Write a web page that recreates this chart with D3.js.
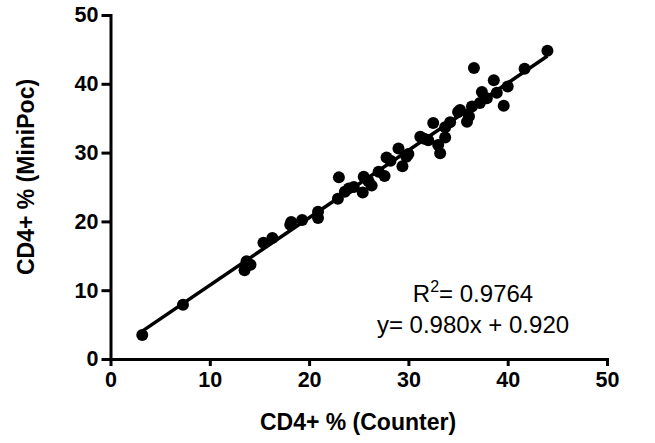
<!DOCTYPE html>
<html>
<head>
<meta charset="utf-8">
<script src="https://cdn.jsdelivr.net/npm/d3@7/dist/d3.min.js"></script>
<style>
  html, body { margin: 0; padding: 0; background: #fff; }
  svg { display: block; }
  text { font-family: "Liberation Sans", Arial, Helvetica, sans-serif; }
</style>
</head>
<body>
<svg id="chart" width="655" height="443"></svg>
<script>
// Data (CD4+ % Counter vs MiniPoc)
const counterValues = [3.2, 7.3, 13.5, 13.7, 14.1, 13.6, 15.4, 16.3, 18.1, 18.2, 19.3, 20.9, 20.9,
  23.0, 22.9, 23.6, 24.0, 24.5, 25.4, 25.5, 26.0, 26.3, 27.0, 27.6, 27.8, 28.2, 29.0, 29.4, 29.8, 30.0,
  31.2, 31.6, 32.0, 32.5, 33.0, 33.2, 33.7, 33.7, 34.2, 35.0, 35.2, 35.9, 36.1, 36.4, 36.6, 37.2, 37.4,
  37.9, 38.6, 38.9, 39.6, 40.0, 41.7, 44.0];
const miniPocValues = [3.5, 7.9, 12.9, 14.2, 13.7, 13.4, 16.9, 17.6, 19.5, 19.9, 20.2, 21.4, 20.5,
  26.4, 23.3, 24.3, 24.8, 25.0, 24.2, 26.5, 25.8, 25.2, 27.2, 26.6, 29.3, 28.8, 30.6, 28.0, 29.4, 29.8,
  32.3, 32.0, 31.8, 34.3, 31.1, 29.9, 33.7, 32.2, 34.4, 35.9, 36.2, 34.5, 35.3, 36.7, 42.3, 37.2, 38.8,
  37.9, 40.5, 38.7, 36.8, 39.6, 42.2, 44.8];
const xTicks = [0, 10, 20, 30, 40, 50];
const yTicks = [0, 10, 20, 30, 40, 50];
const slope = 0.980;
const intercept = 0.920;
const rSquaredLabel = "0.9764";
const equationLabel = "y= 0.980x + 0.920";
const xTitle = "CD4+ % (Counter)";
const yTitle = "CD4+ % (MiniPoc)";

const svg = d3.select("#chart");
const x = d3.scaleLinear().domain([0, 50]).range([110.5, 607]);
const y = d3.scaleLinear().domain([0, 50]).range([359, 15]);

// Axes
const xAxis = svg.append("g")
  .attr("transform", `translate(0,${y(0)})`)
  .call(d3.axisBottom(x).tickValues(xTicks).tickSize(7).tickSizeOuter(0).tickPadding(6));
const yAxis = svg.append("g")
  .attr("transform", `translate(${x(0)},0)`)
  .call(d3.axisLeft(y).tickValues(yTicks).tickSize(9).tickSizeOuter(0).tickPadding(3));

[xAxis, yAxis].forEach(g => {
  g.select(".domain").attr("stroke", "#000").attr("stroke-width", 3).attr("stroke-linecap", "square");
  g.selectAll(".tick line").attr("stroke", "#000").attr("stroke-width", 3);
  g.selectAll(".tick text")
    .attr("fill", "#000")
    .style("font-size", "21.5px")
    .style("font-weight", "bold")
    .style("font-family", "'Liberation Sans', Arial, sans-serif");
});

// Regression line
const xs = d3.extent(counterValues);
svg.append("line")
  .attr("x1", x(xs[0])).attr("y1", y(slope * xs[0] + intercept))
  .attr("x2", x(xs[1])).attr("y2", y(slope * xs[1] + intercept))
  .attr("stroke", "#000").attr("stroke-width", 3.5);

// Points
svg.append("g").selectAll("circle")
  .data(counterValues.map((v, i) => [v, miniPocValues[i]]))
  .join("circle")
  .attr("cx", d => x(d[0]))
  .attr("cy", d => y(d[1]))
  .attr("r", 6)
  .attr("fill", "#000");

// Axis titles
svg.append("text")
  .attr("x", 358).attr("y", 430)
  .attr("text-anchor", "middle")
  .style("font-size", "23px").style("font-weight", "bold")
  .text(xTitle);
svg.append("text")
  .attr("transform", "translate(34,177) rotate(-90)")
  .attr("text-anchor", "middle")
  .style("font-size", "23px").style("font-weight", "bold")
  .text(yTitle);

// Stats annotation
const r2 = svg.append("text")
  .attr("x", 473).attr("y", 302)
  .attr("text-anchor", "middle")
  .style("font-size", "24px");
r2.append("tspan").text("R");
r2.append("tspan").attr("dy", -10).style("font-size", "16px").text("2");
r2.append("tspan").attr("dy", 10).text("= " + rSquaredLabel);
svg.append("text")
  .attr("x", 473).attr("y", 333)
  .attr("text-anchor", "middle")
  .style("font-size", "24px")
  .text(equationLabel);
</script>
</body>
</html>
